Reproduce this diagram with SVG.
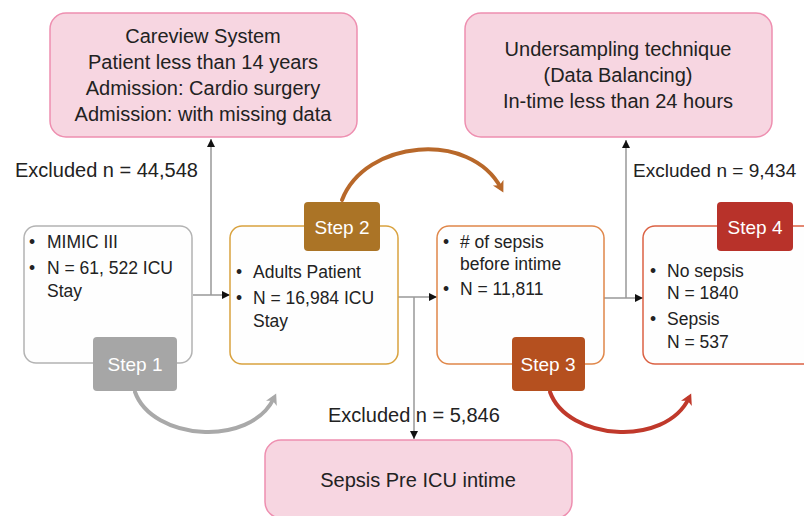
<svg xmlns="http://www.w3.org/2000/svg" width="804" height="516" viewBox="0 0 804 516">
<defs>
<style>
text{font-family:"Liberation Sans",Arial,sans-serif;fill:#222;}
.pink{fill:#f7d6e1;stroke:#ee8fb0;stroke-width:1.5;}
.pt{font-size:20px;text-anchor:middle;}
.lbl{font-size:20px;}
.bt{font-size:17.5px;}
.st{font-size:19px;fill:#fff;text-anchor:middle;}
.conn{fill:none;stroke:#999;stroke-width:1.5;}
.arc{fill:none;stroke-width:4;stroke-linecap:round;}
</style>
<marker id="ah" markerWidth="10" markerHeight="10" refX="8" refY="4" orient="auto" markerUnits="userSpaceOnUse"><path d="M0,0 L8,4 L0,8 Z" fill="#111"/></marker>
<marker id="ahOr" markerWidth="16" markerHeight="16" refX="6" refY="6" orient="auto" markerUnits="userSpaceOnUse"><path d="M0,0 L11,6 L0,12 L3,6 Z" fill="#b8682a"/></marker>
<marker id="ahGr" markerWidth="16" markerHeight="16" refX="6" refY="6" orient="auto" markerUnits="userSpaceOnUse"><path d="M0,0 L11,6 L0,12 L3,6 Z" fill="#a9a9a9"/></marker>
<marker id="ahRd" markerWidth="16" markerHeight="16" refX="6" refY="6" orient="auto" markerUnits="userSpaceOnUse"><path d="M0,0 L11,6 L0,12 L3,6 Z" fill="#c0392b"/></marker>
</defs>
<rect width="804" height="516" fill="#fff"/>

<g id="exclusion1">
<rect class="pink" x="50" y="13" width="307" height="124" rx="16"/>
<text class="pt" x="203" y="43">Careview System</text>
<text class="pt" x="203" y="69">Patient less than 14 years</text>
<text class="pt" x="203" y="95">Admission: Cardio surgery</text>
<text class="pt" x="203" y="121">Admission: with missing data</text>
</g>

<g id="exclusion4">
<rect class="pink" x="465" y="13" width="307" height="124" rx="16"/>
<text class="pt" x="618" y="56">Undersampling technique</text>
<text class="pt" x="618" y="82">(Data Balancing)</text>
<text class="pt" x="618" y="108">In-time less than 24 hours</text>
</g>

<g id="exclusion2">
<rect class="pink" x="265" y="440" width="307" height="78" rx="16"/>
<text class="pt" x="418" y="487">Sepsis Pre ICU intime</text>
</g>

<g id="connectors">
<path class="conn" d="M193 295 H230" marker-end="url(#ah)"/>
<path class="conn" d="M211 295 V139" marker-end="url(#ah)"/>
<path class="conn" d="M398 297 H437" marker-end="url(#ah)"/>
<path class="conn" d="M414 297 V439" marker-end="url(#ah)"/>
<path class="conn" d="M604 298 H643" marker-end="url(#ah)"/>
<path class="conn" d="M626 298 V140" marker-end="url(#ah)"/>
<path class="arc" stroke="#b8682a" d="M342 200 C365 140,470 130,501 188" marker-end="url(#ahOr)"/>
<path class="arc" stroke="#a9a9a9" d="M135 392 C152 440,250 448,274 398" marker-end="url(#ahGr)"/>
<path class="arc" stroke="#c0392b" d="M550 392 C567 440,665 448,689 398" marker-end="url(#ahRd)"/>
</g>

<g id="labels">
<text class="lbl" x="15" y="177">Excluded n = 44,548</text>
<text class="lbl" x="633" y="177" style="font-size:19px">Excluded n = 9,434</text>
<text class="lbl" x="328" y="422">Excluded n = 5,846</text>
</g>

<g id="step1">
<rect x="24" y="226" width="168" height="137" rx="12" fill="#fefefe" stroke="#b3b3b3" stroke-width="1.5"/>
<text class="bt" x="29" y="248">•</text><text class="bt" x="47" y="248">MIMIC III</text>
<text class="bt" x="29" y="274">•</text><text class="bt" x="47" y="274">N = 61, 522 ICU</text>
<text class="bt" x="47" y="297">Stay</text>
<rect x="93" y="337" width="84" height="54" rx="4" fill="#a6a6a6"/>
<text class="st" x="135" y="371">Step 1</text>
</g>

<g id="step2">
<rect x="230" y="226" width="168" height="138" rx="12" fill="#fefefe" stroke="#d9a23f" stroke-width="1.5"/>
<text class="bt" x="236" y="278">•</text><text class="bt" x="253" y="278">Adults Patient</text>
<text class="bt" x="236" y="304">•</text><text class="bt" x="253" y="304">N = 16,984 ICU</text>
<text class="bt" x="253" y="327">Stay</text>
<rect x="304" y="202" width="76" height="49" rx="4" fill="#ab7426"/>
<text class="st" x="342" y="234">Step 2</text>
</g>

<g id="step3">
<rect x="437" y="226" width="167" height="138" rx="12" fill="#fefefe" stroke="#e0874a" stroke-width="1.5"/>
<text class="bt" x="443" y="248">•</text><text class="bt" x="460" y="248"># of sepsis</text>
<text class="bt" x="460" y="270">before intime</text>
<text class="bt" x="443" y="295">•</text><text class="bt" x="460" y="295">N = 11,811</text>
<rect x="512" y="337" width="73" height="54" rx="4" fill="#b5501f"/>
<text class="st" x="548" y="371">Step 3</text>
</g>

<g id="step4">
<rect x="643" y="226" width="175" height="138" rx="12" fill="#fefefe" stroke="#db6244" stroke-width="1.5"/>
<text class="bt" x="650" y="277">•</text><text class="bt" x="667" y="277">No sepsis</text>
<text class="bt" x="667" y="299">N = 1840</text>
<text class="bt" x="650" y="325">•</text><text class="bt" x="667" y="325">Sepsis</text>
<text class="bt" x="667" y="348">N = 537</text>
<rect x="717" y="202" width="76" height="49" rx="4" fill="#b8322a"/>
<text class="st" x="755" y="234">Step 4</text>
</g>
</svg>
